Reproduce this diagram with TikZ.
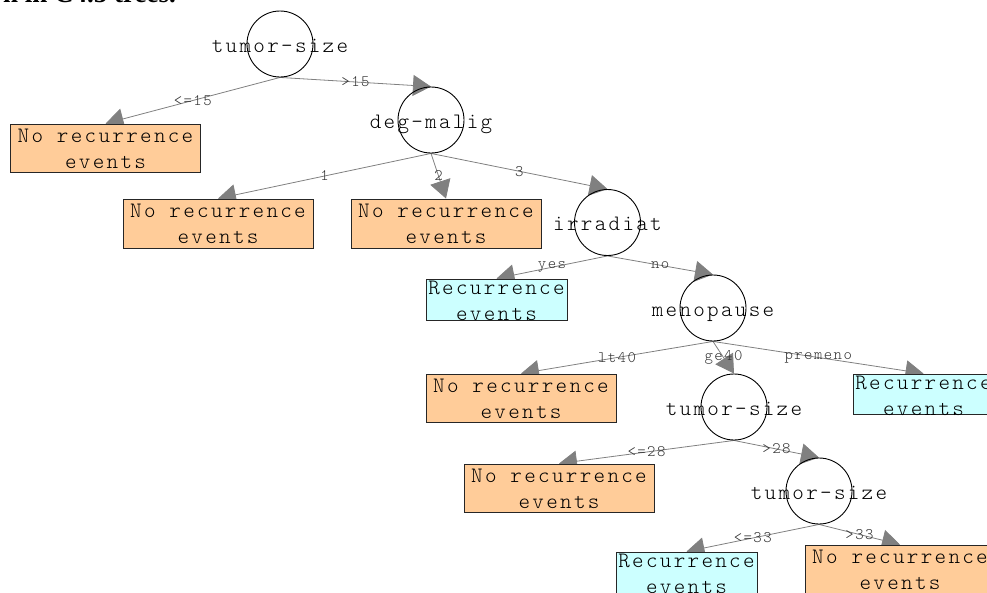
\documentclass[tikz,border=0pt]{standalone}
\usepackage{fontspec}
\usetikzlibrary{arrows.meta,calc}
\newfontfamily\capfont{Liberation Serif}
\newfontfamily\lmleaf[LetterSpace=10.5]{lmmonolt10-regular.otf}
\newfontfamily\lmedge[LetterSpace=9]{lmmonolt10-regular.otf}
\newcommand{\leafface}{\lmleaf\fontsize{22}{26}\selectfont}
\newcommand{\edgeface}{\lmedge\fontsize{16}{18}\selectfont}
\definecolor{peach}{RGB}{255,204,153}
\definecolor{paleCyan}{RGB}{204,255,255}
\definecolor{edgegray}{RGB}{128,128,128}
\pgfdeclarelayer{bg}
\pgfsetlayers{bg,main}
\begin{document}
\begin{tikzpicture}[x=1pt,y=-1pt,
  decision/.style={circle, draw=black, line width=0.9pt, minimum size=66pt, inner sep=0pt},
  dtext/.style={anchor=base, inner sep=0pt, font=\leafface},
  leafbase/.style={draw=black!85, line width=0.9pt, inner sep=0pt},
  norec/.style={leafbase, fill=peach, minimum width=190pt, minimum height=48pt},
  rec/.style={leafbase, fill=paleCyan, minimum width=141pt, minimum height=41pt},
  ltext/.style={anchor=base, inner sep=0pt, font=\leafface},
  edge/.style={draw=edgegray, line width=0.8pt, -{Triangle[length=18pt,width=21pt]}},
  elabel/.style={midway, inner sep=0pt, font=\edgeface, text=black!80}
]
\clip (0,0) rectangle (987,592);
\useasboundingbox (0,0) rectangle (987,592);

% caption remnant
\node[anchor=base east, inner sep=0pt, font=\capfont\bfseries\fontsize{27}{30}\selectfont] (cap) at (176,2) {n in C4.5 trees.};

% decision nodes
\node[decision] (r)  at (280,44) {};
\node[decision] (dm) at (431,120) {};
\node[decision] (ir) at (607.5,222.5) {};
\node[decision] (me) at (713,308) {};
\node[decision] (t2) at (734,407) {};
\node[decision] (t3) at (819,491) {};
\node[dtext] (rt)  at ($(r)+(0,8)$)  {tumor-size};
\node[dtext] (dmt) at ($(dm)+(0,8)$) {deg-malig};
\node[dtext] (irt) at ($(ir)+(0,8)$) {irradiat};
\node[dtext] (met) at ($(me)+(0,8)$) {menopause};
\node[dtext] (t2t) at ($(t2)+(0,8)$) {tumor-size};
\node[dtext] (t3t) at ($(t3)+(0,8)$) {tumor-size};

% leaves
\node[norec] (A) at (105.5,148) {};
\node[norec, minimum height=49pt] (B) at (218,223.5) {};
\node[norec, minimum height=49pt] (C) at (446,223.5) {};
\node[rec]   (D) at (496.5,299.5) {};
\node[norec] (E) at (521,398) {};
\node[rec, minimum height=40pt] (F) at (923.5,394) {};
\node[norec] (G) at (559,488) {};
\node[rec]   (H) at (686.5,572.5) {};
\node[norec] (I) at (900,569) {};

\foreach \n in {A,B,C,E,G,I}{
  \node[ltext] (\n1) at ($(\n.north)+(0,19)$) {No recurrence};
  \node[ltext] (\n2) at ($(\n.north)+(0,45)$) {events};
}
\foreach \n in {D,F,H}{
  \node[ltext] (\n1) at ($(\n.north)+(0,16)$) {Recurrence};
  \node[ltext] (\n2) at ($(\n.north)+(0,42)$) {events};
}

% edges
\begin{pgfonlayer}{bg}
\draw[edge] (r.south) -- node[elabel] {<=15} (A.north);
\draw[edge] (r.south) -- node[elabel] {>15} (dm.north);
\draw[edge] (dm.south) -- node[elabel] {1} (B.north);
\draw[edge] (dm.south) -- node[elabel] {2} (C.north);
\draw[edge] (dm.south) -- node[elabel] {3} (ir.north);
\draw[edge] (ir.south) -- node[elabel] {yes} (D.north);
\draw[edge] (ir.south) -- node[elabel] {no} (me.north);
\draw[edge] (me.south) -- node[elabel] {lt40} (E.north);
\draw[edge] (me.south) -- node[elabel] {ge40} (t2.north);
\draw[edge] (me.south) -- node[elabel] {premeno} (F.north);
\draw[edge] (t2.south) -- node[elabel] {<=28} (G.north);
\draw[edge] (t2.south) -- node[elabel] {>28} (t3.north);
\draw[edge] (t3.south) -- node[elabel] {<=33} (H.north);
\draw[edge] (t3.south) -- node[elabel] {>33} (I.north);
\end{pgfonlayer}
\end{tikzpicture}
\end{document}
